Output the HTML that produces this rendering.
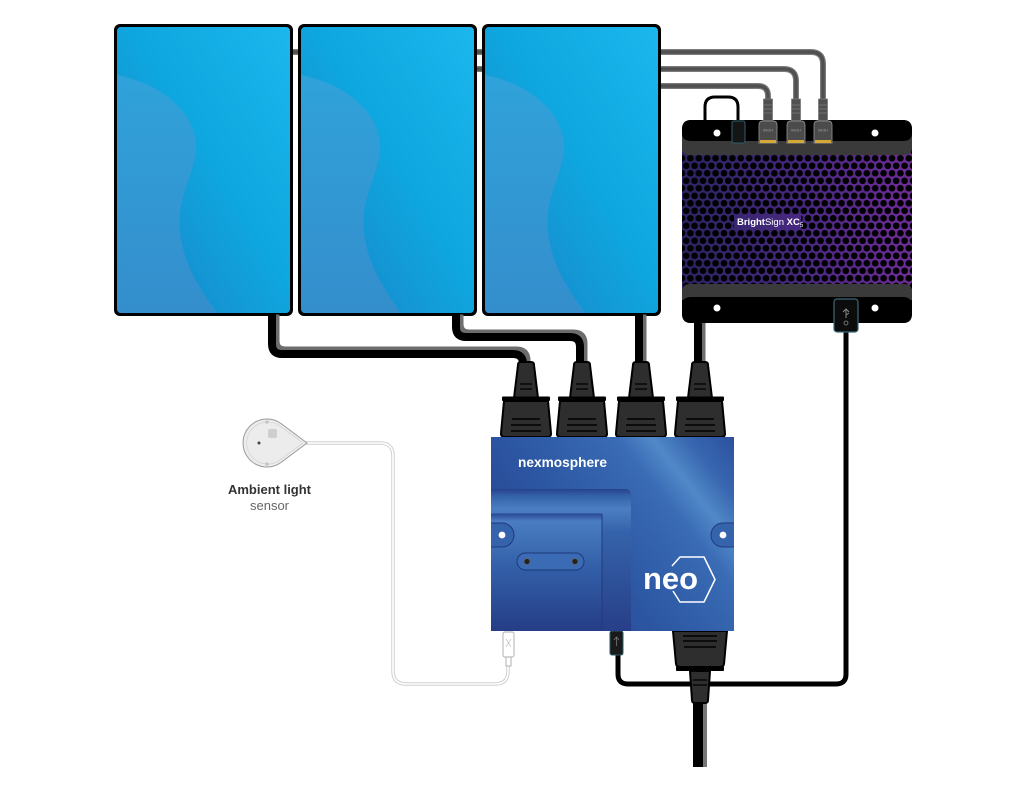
<!DOCTYPE html>
<html>
<head>
<meta charset="utf-8">
<style>
  html,body{margin:0;padding:0;background:#fff;}
  svg{display:block;}
</style>
</head>
<body>
<svg width="1024" height="794" viewBox="0 0 1024 794" xmlns="http://www.w3.org/2000/svg">
  <defs>
    <linearGradient id="scr" x1="1" y1="0" x2="0" y2="1">
      <stop offset="0" stop-color="#1bb7ed"/>
      <stop offset="0.45" stop-color="#0ea7df"/>
      <stop offset="1" stop-color="#1c80c5"/>
    </linearGradient>
    <linearGradient id="wave" x1="0" y1="0" x2="0" y2="1">
      <stop offset="0" stop-color="#30a2da"/>
      <stop offset="1" stop-color="#348ecc"/>
    </linearGradient>
    <clipPath id="scrclip"><rect x="3" y="3" width="173" height="286" rx="4"/></clipPath>
    <g id="panel">
      <rect x="0" y="0" width="179" height="292" rx="6" fill="#000"/>
      <rect x="3" y="3" width="173" height="286" rx="4" fill="url(#scr)"/>
      <path clip-path="url(#scrclip)" d="M3,51 C53,61 84,93 82,126 C80,153 62,173 66,208 C70,243 88,268 103,289 L3,289 Z" fill="url(#wave)"/>
    </g>

    <linearGradient id="purp" gradientUnits="userSpaceOnUse" x1="682" y1="0" x2="912" y2="0">
      <stop offset="0" stop-color="#2b2462"/>
      <stop offset="0.5" stop-color="#46287f"/>
      <stop offset="1" stop-color="#6e2c98"/>
    </linearGradient>
    <pattern id="grille" patternUnits="userSpaceOnUse" x="682" y="147" width="8.4" height="15">
      <circle cx="4.2" cy="3.75" r="3.3" fill="#000"/>
      <circle cx="0" cy="11.25" r="3.3" fill="#000"/>
      <circle cx="8.4" cy="11.25" r="3.3" fill="#000"/>
    </pattern>

    <linearGradient id="nexo" gradientUnits="userSpaceOnUse" x1="491" y1="631" x2="734" y2="437">
      <stop offset="0" stop-color="#233a85"/>
      <stop offset="0.45" stop-color="#2d58a4"/>
      <stop offset="0.7" stop-color="#3a6bb5"/>
      <stop offset="0.79" stop-color="#5089c8"/>
      <stop offset="0.88" stop-color="#3866b0"/>
      <stop offset="1" stop-color="#2b519e"/>
    </linearGradient>
    <linearGradient id="inner1" x1="0" y1="0" x2="0" y2="1">
      <stop offset="0" stop-color="#26428c"/>
      <stop offset="0.05" stop-color="#3462aa"/>
      <stop offset="0.14" stop-color="#4b7ec2"/>
      <stop offset="0.3" stop-color="#3563ab"/>
      <stop offset="1" stop-color="#273f88"/>
    </linearGradient>
    <linearGradient id="inner2" x1="0" y1="0" x2="0" y2="1">
      <stop offset="0" stop-color="#2a4a95"/>
      <stop offset="0.06" stop-color="#4a7dc1"/>
      <stop offset="0.45" stop-color="#3360a9"/>
      <stop offset="1" stop-color="#253d86"/>
    </linearGradient>

    <g id="plugT">
      <path d="M-8,365 Q-8,362 -5,362 H5 Q8,362 8,365 L12,398 H-12 Z" fill="#2e2e2e" stroke="#000" stroke-width="2"/>
      <line x1="-6" y1="384" x2="6" y2="384" stroke="#000" stroke-width="1.3"/>
      <line x1="-6" y1="389" x2="6" y2="389" stroke="#000" stroke-width="1.3"/>
      <rect x="-24" y="396.5" width="48" height="4.5" rx="1" fill="#000"/>
      <path d="M-22,401 H22 L25,433 Q25.5,437 21,437 H-21 Q-25.5,437 -25,433 Z" fill="#2e2e2e" stroke="#000" stroke-width="2"/>
      <line x1="-14" y1="419" x2="14" y2="419" stroke="#000" stroke-width="1.5"/>
      <line x1="-15" y1="425" x2="15" y2="425" stroke="#000" stroke-width="1.5"/>
      <line x1="-15" y1="431" x2="15" y2="431" stroke="#000" stroke-width="1.5"/>
    </g>

    <g id="hdmi">
      <rect x="-4.5" y="99" width="9" height="23" fill="#505050" stroke="#7a7a7a" stroke-width="0.8"/>
      <line x1="-4" y1="105" x2="4" y2="105" stroke="#7a7a7a" stroke-width="0.8"/>
      <line x1="-4" y1="109" x2="4" y2="109" stroke="#7a7a7a" stroke-width="0.8"/>
      <line x1="-4" y1="113" x2="4" y2="113" stroke="#7a7a7a" stroke-width="0.8"/>
      <path d="M-9,125 Q-9,121 -5,121 H5 Q9,121 9,125 V143 H-9 Z" fill="#4b4b4b" stroke="#8a8a8a" stroke-width="0.9"/>
      <rect x="-8" y="140" width="16" height="3" fill="#d4a838"/>
      <text x="0" y="131" font-family="Liberation Sans, sans-serif" font-size="4" fill="#9a9a9a" text-anchor="middle" transform="rotate(180 0 130)">HDMI</text>
    </g>
  </defs>

  <!-- HDMI gray cables (behind panels) -->
  <g fill="none" stroke-linecap="butt">
    <path d="M200,52 H811 Q823,52 823,64 V100" stroke="#7a7a7a" stroke-width="6"/>
    <path d="M200,52 H811 Q823,52 823,64 V100" stroke="#505050" stroke-width="3.5"/>
    <path d="M400,69 H784 Q796,69 796,81 V100" stroke="#7a7a7a" stroke-width="6"/>
    <path d="M400,69 H784 Q796,69 796,81 V100" stroke="#505050" stroke-width="3.5"/>
    <path d="M600,86 H758 Q768,86 768,96 V100" stroke="#7a7a7a" stroke-width="6"/>
    <path d="M600,86 H758 Q768,86 768,96 V100" stroke="#505050" stroke-width="3.5"/>
  </g>

  <!-- Panels -->
  <use href="#panel" x="114" y="24"/>
  <use href="#panel" x="298" y="24"/>
  <use href="#panel" x="482" y="24"/>

  <!-- Power cables from panels -->
  <g fill="none">
    <g transform="translate(3.5,-3.5)" stroke="#6d6d6d" stroke-width="8">
      <path d="M272,318 V344 Q272,354 282,354 H513 Q523,354 523,364 V368"/>
      <path d="M456,318 V327 Q456,337 466,337 H570 Q580,337 580,347 V368"/>
      <path d="M639,318 V368"/>
      <path d="M698,326 V368"/>
    </g>
    <g stroke="#000" stroke-width="8">
      <path d="M272,314 V344 Q272,354 282,354 H513 Q523,354 523,364 V368"/>
      <path d="M456,314 V327 Q456,337 466,337 H570 Q580,337 580,347 V368"/>
      <path d="M639,314 V368"/>
      <path d="M698,320 V368"/>
    </g>
  </g>

  <!-- USB cable from BrightSign to Nexmosphere -->
  <path d="M618,650 V674 Q618,684 628,684 H836 Q846,684 846,674 V330" fill="none" stroke="#000" stroke-width="5"/>

  <!-- BrightSign box -->
  <rect x="682" y="120" width="230" height="203" rx="9" fill="#000"/>
  <rect x="682" y="146" width="230" height="148" fill="url(#purp)"/>
  <rect x="682" y="146" width="230" height="148" fill="url(#grille)"/>
  <rect x="734" y="214" width="67" height="16" fill="url(#purp)"/>
  <text x="737" y="225" font-family="Liberation Sans, sans-serif" font-size="9.5" fill="#fff"><tspan font-weight="bold">Bright</tspan><tspan>Sign</tspan><tspan font-weight="bold"> XC</tspan><tspan font-size="6" dy="2">5</tspan></text>
  <!-- top band -->
  <path d="M682,134 V148 Q682,155 690,155 H904 Q912,155 912,148 V134 Z" fill="#3a3a3a"/>
  <path d="M682,129 Q682,120 691,120 H903 Q912,120 912,129 V133 Q912,141 903,141 H691 Q682,141 682,133 Z" fill="#000"/>
  <!-- bottom band -->
  <path d="M682,292 Q682,284 690,284 H904 Q912,284 912,292 V300 H682 Z" fill="#3a3a3a"/>
  <path d="M682,306 Q682,297 691,297 H903 Q912,297 912,306 V314 Q912,323 903,323 H691 Q682,323 682,314 Z" fill="#000"/>
  <circle cx="717" cy="133" r="3.5" fill="#fff"/>
  <circle cx="875" cy="133" r="3.5" fill="#fff"/>
  <circle cx="717" cy="308" r="3.5" fill="#fff"/>
  <circle cx="875" cy="308" r="3.5" fill="#fff"/>

  <!-- black loop cable + connector on top -->
  <path d="M705,124 V107 Q705,97 715,97 H728 Q738,97 738,107 V122" fill="none" stroke="#000" stroke-width="3"/>
  <rect x="732" y="121" width="13" height="22" rx="2" fill="#151515" stroke="#2d5f6a" stroke-width="1"/>

  <!-- HDMI connectors -->
  <use href="#hdmi" x="768" y="0"/>
  <use href="#hdmi" x="796" y="0"/>
  <use href="#hdmi" x="823" y="0"/>

  <!-- USB connector on BrightSign bottom -->
  <rect x="834" y="299" width="24" height="33" rx="3" fill="#0c0c0c" stroke="#3a6a78" stroke-width="1.2"/>
  <path d="M846,309 V318 M843,312 L846,309 L849,312 M846,315 L849,313" fill="none" stroke="#888" stroke-width="1"/>
  <circle cx="846" cy="323" r="2" fill="none" stroke="#888" stroke-width="0.8"/>

  <!-- Plugs on top of Nexmosphere -->
  <use href="#plugT" x="526" y="0"/>
  <use href="#plugT" x="582" y="0"/>
  <use href="#plugT" x="641" y="0"/>
  <use href="#plugT" x="700" y="0"/>

  <!-- Bottom power cable -->
  <rect x="693" y="700" width="10" height="67" fill="#000"/>
  <rect x="703" y="700" width="4" height="67" fill="#777"/>
  <!-- Bottom plug -->
  <g transform="translate(700,0)">
    <path d="M-10,671 H10 L8,700 Q8,703 5,703 H-5 Q-8,703 -8,700 Z" fill="#2e2e2e" stroke="#000" stroke-width="2"/>
    <line x1="-7" y1="680" x2="7" y2="680" stroke="#000" stroke-width="1.3"/>
    <line x1="-7" y1="685" x2="7" y2="685" stroke="#000" stroke-width="1.3"/>
    <rect x="-24" y="666.5" width="48" height="4.5" rx="1" fill="#000"/>
    <path d="M-27,631 H27 L24,664 Q23.5,667 20,667 H-20 Q-23.5,667 -24,664 Z" fill="#2e2e2e" stroke="#000" stroke-width="2"/>
    <line x1="-17" y1="636" x2="17" y2="636" stroke="#000" stroke-width="1.5"/>
    <line x1="-17" y1="641" x2="17" y2="641" stroke="#000" stroke-width="1.5"/>
    <line x1="-16" y1="647" x2="16" y2="647" stroke="#000" stroke-width="1.5"/>
  </g>

  <!-- USB connector below Nexmosphere -->
  <rect x="610" y="631" width="13" height="24" rx="2" fill="#1a1a1a" stroke="#2a5a66" stroke-width="1"/>
  <path d="M616.5,637 V646 M614,640 L616.5,637 L619,640" fill="none" stroke="#777" stroke-width="0.8"/>

  <!-- Nexmosphere box -->
  <rect x="491" y="437" width="243" height="194" fill="url(#nexo)"/>
  <path d="M491,489 H625 Q631,489 631,495 V631 H491 Z" fill="url(#inner1)"/>
  <path d="M491,514 H602 V631 H491 Z" fill="url(#inner2)"/>
  <line x1="602" y1="514" x2="602" y2="631" stroke="#22397d" stroke-width="1"/>
  <line x1="491" y1="514" x2="602" y2="514" stroke="#2a4890" stroke-width="1"/>
  <!-- side tabs -->
  <path d="M491,523 H502 A12,12 0 0 1 502,547 H491" fill="#3463ac" stroke="#1f3a7e" stroke-width="1"/>
  <circle cx="502" cy="535" r="3.4" fill="#fff"/>
  <path d="M734,523 H723 A12,12 0 0 0 723,547 H734" fill="#3564ad" stroke="#1f3a7e" stroke-width="1"/>
  <circle cx="723" cy="535" r="3.4" fill="#fff"/>
  <!-- oval slot -->
  <rect x="517" y="553" width="67" height="17" rx="8.5" fill="#3b6bb4" stroke="#1e3878" stroke-width="1"/>
  <circle cx="527" cy="561.5" r="3" fill="#222" stroke="#666" stroke-width="0.8"/>
  <circle cx="575" cy="561.5" r="3" fill="#222" stroke="#666" stroke-width="0.8"/>
  <!-- logo text -->
  <text x="518" y="467" font-family="Liberation Sans, sans-serif" font-weight="bold" font-size="13.5" fill="#fff" textLength="89" lengthAdjust="spacingAndGlyphs">nexmosphere</text>
  <text x="643" y="589" font-family="Liberation Sans, sans-serif" font-weight="bold" font-size="31" fill="#fff" textLength="55" lengthAdjust="spacingAndGlyphs">neo</text>
  <polyline points="672,566 680,557 704,557 715,579.5 704,602 680,602 673,591" fill="none" stroke="#fff" stroke-width="1.5" stroke-linejoin="round"/>

  <!-- Sensor cable -->
  <g fill="none">
    <path d="M300,443 H380 Q393,443 393,456 V671 Q393,684 406,684 H495 Q508,684 508,671 V660" stroke="#cfcfcf" stroke-width="3.5"/>
    <path d="M300,443 H380 Q393,443 393,456 V671 Q393,684 406,684 H495 Q508,684 508,671 V660" stroke="#fff" stroke-width="1.6"/>
  </g>
  <!-- sensor connector -->
  <rect x="503" y="632" width="11" height="25" rx="2" fill="#fff" stroke="#aaa" stroke-width="0.9"/>
  <path d="M506,639 L511,647 M511,639 L506,647" stroke="#bbb" stroke-width="0.7"/>
  <rect x="506" y="657" width="5" height="9" fill="#fff" stroke="#aaa" stroke-width="0.9"/>

  <!-- Sensor -->
  <path d="M307,443 L281,423.5 A24,24 0 1 0 281,462.5 Z" fill="#ececec" stroke="#9a9a9a" stroke-width="1" stroke-linejoin="round"/>
  <path d="M303,443 L280,426 A21,21 0 1 0 280,460 Z" fill="none" stroke="#d6d6d6" stroke-width="0.8" stroke-linejoin="round"/>
  <rect x="268" y="429" width="9" height="9" rx="2" fill="#cfcfcf"/>
  <circle cx="259" cy="443" r="1.5" fill="#444"/>
  <circle cx="267" cy="422" r="1.2" fill="none" stroke="#aaa" stroke-width="0.7"/>
  <circle cx="267" cy="464" r="1.2" fill="none" stroke="#aaa" stroke-width="0.7"/>

  <text x="269.5" y="494" font-family="Liberation Sans, sans-serif" font-weight="bold" font-size="13" fill="#333" text-anchor="middle">Ambient light</text>
  <text x="269.5" y="510" font-family="Liberation Sans, sans-serif" font-size="13" fill="#666" text-anchor="middle">sensor</text>
</svg>
</body>
</html>
